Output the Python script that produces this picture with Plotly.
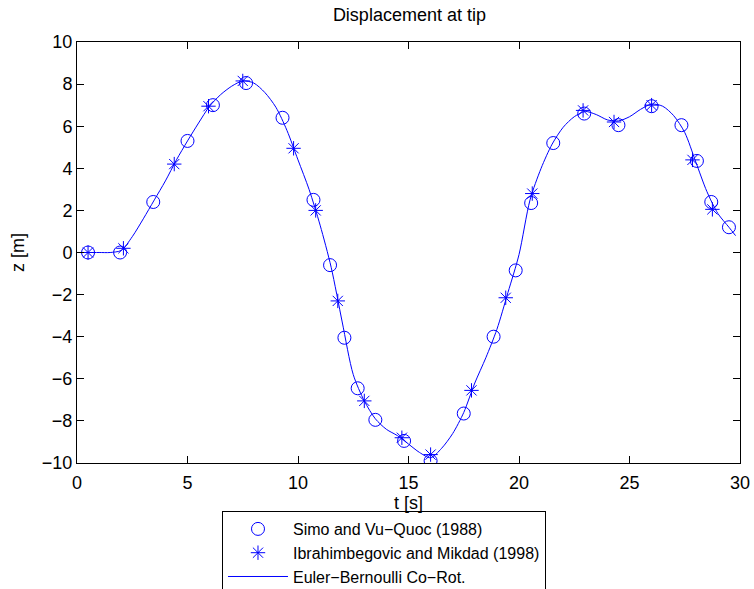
import plotly.graph_objects as go

# Simo and Vu-Quoc (1988)
simo_t = [0.5, 1.95, 3.45, 5.0, 6.15, 7.65, 9.3, 10.7, 11.45, 12.1, 12.7, 13.5,
          14.8, 16.0, 17.5, 18.85, 19.85, 20.55, 21.55, 22.95, 24.5, 26.0, 27.35,
          28.05, 28.7, 29.5]
simo_z = [0.0, 0.0, 2.4, 5.3, 7.0, 8.05, 6.4, 2.5, -0.6, -4.05, -6.45, -7.95,
          -8.95, -9.9, -7.65, -4.0, -0.85, 2.35, 5.2, 6.6, 6.05, 6.95, 6.05,
          4.35, 2.4, 1.2]

# Ibrahimbegovic and Mikdad (1998)
ibra_t = [0.5, 2.1, 4.4, 5.95, 7.5, 9.8, 10.8, 11.8, 13.0, 14.7, 16.0, 17.85,
          19.4, 20.6, 22.9, 24.3, 26.0, 27.85, 28.75]
ibra_z = [0.0, 0.2, 4.2, 6.95, 8.15, 4.95, 2.0, -2.3, -7.05, -8.8, -9.6, -6.55,
          -2.15, 2.8, 6.75, 6.2, 7.0, 4.4, 2.05]

# Euler-Bernoulli co-rotational solution
eb_t = [0.0, 0.5, 1.0, 1.5, 2.0, 2.5, 3.0, 3.5, 4.0, 4.5, 5.0, 5.5, 6.0, 6.5,
        7.0, 7.5, 8.0, 8.5, 9.0, 9.5, 10.0, 10.5, 11.0, 11.5, 12.0, 12.5, 13.0,
        13.5, 14.0, 14.5, 15.0, 15.5, 16.0, 16.5, 17.0, 17.5, 18.0, 18.5, 19.0,
        19.5, 20.0, 20.5, 21.0, 21.5, 22.0, 22.5, 23.0, 23.5, 24.0, 24.5, 25.0,
        25.5, 26.0, 26.5, 27.0, 27.5, 28.0, 28.5, 29.0, 29.5, 29.8]
eb_z = [0.0, 0.0, 0.0, 0.0, 0.1, 0.75, 1.6, 2.5, 3.4, 4.4, 5.3, 6.15, 6.95, 7.5,
        7.9, 8.15, 8.05, 7.6, 6.9, 5.8, 4.4, 3.0, 1.3, -0.7, -3.3, -5.8, -7.05,
        -7.9, -8.4, -8.7, -9.1, -9.5, -9.75, -9.3, -8.6, -7.6, -6.2, -5.0, -3.65,
        -1.9, -0.1, 2.5, 4.0, 5.15, 5.95, 6.45, 6.7, 6.55, 6.3, 6.25, 6.45, 6.8,
        7.05, 6.95, 6.5, 5.7, 4.3, 2.9, 1.85, 1.2, 0.8]

x_ticks = [0, 5, 10, 15, 20, 25, 30]
y_ticks = [-10, -8, -6, -4, -2, 0, 2, 4, 6, 8, 10]

blue = "rgb(0,0,255)"
font = "Liberation Sans, Arial, Helvetica, sans-serif"

fig = go.Figure()
fig.add_trace(go.Scatter(
    x=simo_t, y=simo_z, mode="markers", name="Simo and Vu−Quoc (1988)",
    marker=dict(symbol="circle-open", size=13, color=blue, line=dict(width=1, color=blue)),
))
fig.add_trace(go.Scatter(
    x=ibra_t, y=ibra_z, mode="markers", name="Ibrahimbegovic and Mikdad (1998)",
    marker=dict(symbol="asterisk-open", size=12, color=blue, line=dict(width=1, color=blue)),
))
fig.add_trace(go.Scatter(
    x=eb_t, y=eb_z, mode="lines", name="Euler−Bernoulli Co−Rot.",
    line=dict(color=blue, width=1, shape="spline", smoothing=0.8),
))

axis_common = dict(
    showgrid=False, zeroline=False, showline=True, linecolor="black", linewidth=1,
    mirror="ticks", ticks="inside", ticklen=7, tickcolor="black", tickwidth=1,
    tickfont=dict(family=font, size=18, color="black"),
)

fig.update_layout(
    width=754, height=589,
    # fixed margins; the legend below the axes may reach the page's bottom edge
    margin=dict(l=77, r=14, t=42, b=126, autoexpand=False),
    paper_bgcolor="white", plot_bgcolor="white",
    font=dict(family=font, color="black"),
    title=dict(text="Displacement at tip", x=0.543, xanchor="center", y=0.9745,
               yanchor="middle", font=dict(family=font, size=18)),
    xaxis=dict(range=[0, 30], tickvals=x_ticks, ticklabelstandoff=3,
               title=dict(text="t [s]", font=dict(size=18), standoff=4), **axis_common),
    yaxis=dict(range=[-10, 10], tickvals=y_ticks,
               title=dict(text="z [m]", font=dict(size=18), standoff=12), **axis_common),
    legend=dict(
        x=0.2187, xanchor="left", y=-0.114, yanchor="top",
        bgcolor="white", bordercolor="black", borderwidth=1,
        font=dict(family=font, size=16), tracegroupgap=0, itemwidth=60,
    ),
)

fig.write_html("out.html")
